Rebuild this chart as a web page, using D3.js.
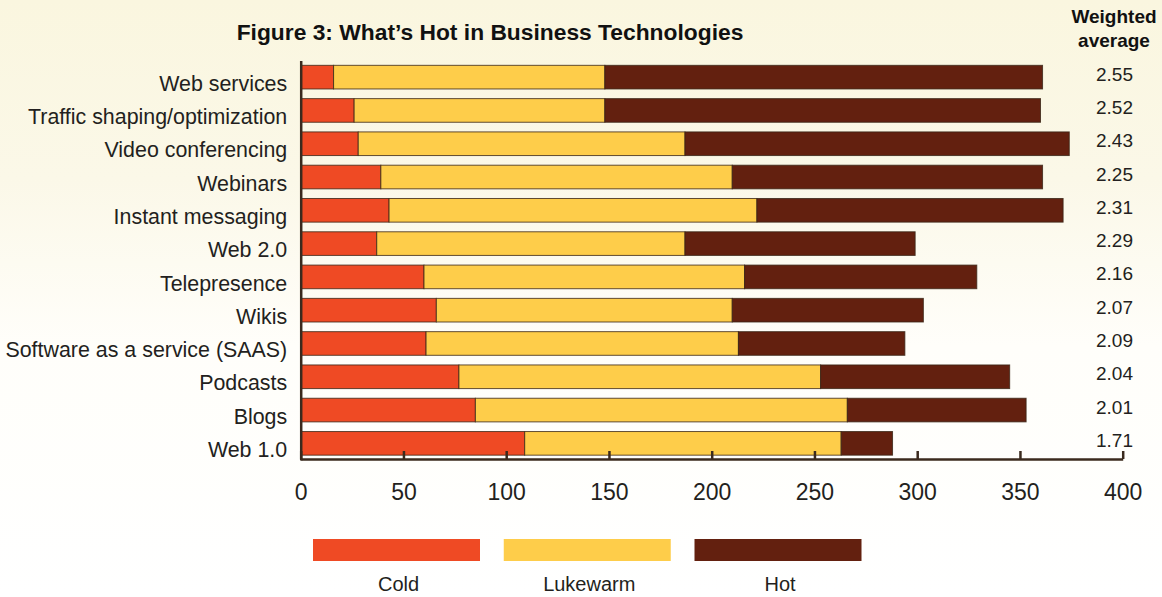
<!DOCTYPE html>
<html>
<head>
<meta charset="utf-8">
<script src="https://cdn.jsdelivr.net/npm/d3@7"></script>
<style>
  html, body { margin: 0; padding: 0; }
  body { width: 1162px; height: 597px; overflow: hidden; }
  svg { display: block; }
</style>
</head>
<body>
<svg id="chart" width="1162" height="597"></svg>
<script>
const categories = ["Web services", "Traffic shaping/optimization", "Video conferencing", "Webinars",
  "Instant messaging", "Web 2.0", "Telepresence", "Wikis", "Software as a service (SAAS)",
  "Podcasts", "Blogs", "Web 1.0"];
const cold     = [16, 26, 28, 39, 43, 37, 60, 66, 61, 77, 85, 109];
const lukewarm = [132, 122, 159, 171, 179, 150, 156, 144, 152, 176, 181, 154];
const hot      = [213, 212, 187, 151, 149, 112, 113, 93, 81, 92, 87, 25];
const weighted = ["2.55", "2.52", "2.43", "2.25", "2.31", "2.29", "2.16", "2.07", "2.09", "2.04", "2.01", "1.71"];
const seriesNames = ["Cold", "Lukewarm", "Hot"];
const xTicks = [0, 50, 100, 150, 200, 250, 300, 350, 400];
const title = "Figure 3: What\u2019s Hot in Business Technologies";
const weightedTitle = ["Weighted", "average"];

const colors = { Cold: "#ef4a24", Lukewarm: "#fecd4a", Hot: "#63200f" };
const textColor = "#231f20";
const axisColor = "#3b2a1e";
const font = "'Liberation Sans', Arial, Helvetica, sans-serif";

const svg = d3.select("#chart");

// background gradient
const defs = svg.append("defs");
const grad = defs.append("linearGradient").attr("id", "bg").attr("x1", 0).attr("y1", 0).attr("x2", 0).attr("y2", 1);
grad.append("stop").attr("offset", "0%").attr("stop-color", "#faf6df");
grad.append("stop").attr("offset", "30%").attr("stop-color", "#fbf8e8");
grad.append("stop").attr("offset", "58%").attr("stop-color", "#fffefa");
grad.append("stop").attr("offset", "100%").attr("stop-color", "#ffffff");
svg.append("rect").attr("width", 1162).attr("height", 597).attr("fill", "url(#bg)");

const x = d3.scaleLinear().domain([0, 400]).range([300.7, 1122.7]);
const y = d3.scaleBand().domain(categories).range([60.5, 460]).paddingInner(0.29).paddingOuter(0.145);

// stacked data
const rows = categories.map((c, i) => ({ category: c, Cold: cold[i], Lukewarm: lukewarm[i], Hot: hot[i] }));
const stack = d3.stack().keys(seriesNames)(rows);

svg.append("g").selectAll("g").data(stack).join("g")
  .attr("fill", d => colors[d.key])
  .selectAll("rect").data(d => d).join("rect")
  .attr("x", d => x(d[0]))
  .attr("y", d => y(d.data.category))
  .attr("width", d => x(d[1]) - x(d[0]))
  .attr("height", y.bandwidth())
  .attr("stroke", "#3a2616")
  .attr("stroke-width", 1)
  .attr("stroke-opacity", 0.8);

// x axis
const xAxis = svg.append("g")
  .attr("transform", `translate(0,${y.range()[1] - 1})`)
  .call(d3.axisBottom(x).tickValues(xTicks).tickSizeInner(-8).tickSizeOuter(0).tickPadding(24.5));
xAxis.select(".domain").attr("stroke", axisColor).attr("stroke-width", 2.5);
xAxis.selectAll(".tick line").attr("stroke", axisColor).attr("stroke-width", 2.5);
xAxis.selectAll(".tick text").attr("fill", textColor).style("font-family", font).style("font-size", "23px");

// y axis (category labels)
const yAxis = svg.append("g")
  .attr("transform", `translate(${x(0)},0)`)
  .call(d3.axisLeft(y).tickSize(0).tickPadding(13.5));
yAxis.select(".domain").attr("stroke", axisColor).attr("stroke-width", 2.5);
yAxis.selectAll(".tick text").attr("fill", textColor).style("font-family", font).style("font-size", "21.4px")
  .attr("dy", "0.64em");

// weighted averages
svg.append("g").selectAll("text").data(categories).join("text")
  .attr("x", 1096)
  .attr("y", d => y(d) + y.bandwidth() / 2 + 3.5)
  .attr("fill", textColor)
  .style("font-family", font).style("font-size", "19px")
  .text((d, i) => weighted[i]);

svg.append("text")
  .attr("x", 1114).attr("y", 23).attr("text-anchor", "middle")
  .attr("fill", "#111")
  .style("font-family", font).style("font-size", "19px").style("font-weight", "bold")
  .selectAll("tspan").data(weightedTitle).join("tspan")
  .attr("x", 1114).attr("dy", (d, i) => i === 0 ? 0 : 24)
  .text(d => d);

// title
svg.append("text")
  .attr("x", 490).attr("y", 39.5).attr("text-anchor", "middle")
  .attr("fill", "#111")
  .style("font-family", font).style("font-size", "22.8px").style("font-weight", "bold")
  .text(title);

// legend
const legendX = d3.scalePoint().domain(seriesNames).range([396.5, 778]);
const legend = svg.append("g").selectAll("g").data(seriesNames).join("g")
  .attr("transform", d => `translate(${legendX(d)},0)`);
legend.append("rect")
  .attr("x", -83.5).attr("y", 539).attr("width", 167).attr("height", 22)
  .attr("fill", d => colors[d]);
legend.append("text")
  .attr("x", 2).attr("y", 591).attr("text-anchor", "middle")
  .attr("fill", textColor)
  .style("font-family", font).style("font-size", "20px")
  .text(d => d);
</script>
</body>
</html>
